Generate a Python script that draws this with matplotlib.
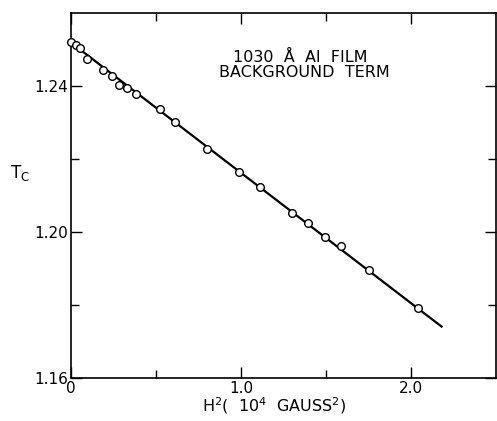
import numpy as np
from matplotlib import pyplot as plt

# measured points: H^2 (10^4 gauss^2) vs Tc
h2 = [0.0, 0.03, 0.053, 0.092, 0.19, 0.239, 0.282, 0.328, 0.384, 0.522, 0.612,
      0.798, 0.986, 1.112, 1.298, 1.396, 1.496, 1.588, 1.755, 2.039]
tc = [1.2521, 1.2512, 1.2505, 1.2475, 1.2444, 1.2427, 1.2404, 1.2396, 1.2378, 1.2336, 1.2302,
      1.2228, 1.2164, 1.2124, 1.2051, 1.2024, 1.1987, 1.1962, 1.1896, 1.1793]

# fitted straight line
fit_x = [0.0, 2.18]
fit_y = [1.2519, 1.1741]

fig = plt.figure(figsize=(4.97, 4.21), dpi=100)
ax = fig.add_axes([0.143, 0.102, 0.855, 0.867])

ax.plot(fit_x, fit_y, color="black", lw=1.6, zorder=2)
ax.plot(h2, tc, "o", ms=5.5, mfc="white", mec="black", mew=1.0, zorder=3, clip_on=False)

ax.set_xlim(0, 2.5)
ax.set_ylim(1.16, 1.26)
ax.set_xticks([0, 1.0, 2.0])
ax.set_xticklabels(["0", "1.0", "2.0"])
ax.set_xticks([0.5, 1.5], minor=True)
ax.set_yticks([1.16, 1.20, 1.24])
ax.set_yticklabels(["1.16", "1.20", "1.24"])
ax.set_yticks([1.18, 1.22], minor=True)
ax.tick_params(which="both", direction="in", top=True, right=True, width=1.0,
               labelsize=11, pad=2)
ax.tick_params(which="major", length=8)
ax.tick_params(which="minor", length=6)
for s in ax.spines.values():
    s.set_linewidth(1.2)

ax.text(0.54, 0.879, "1030  Å  Al  FILM", transform=ax.transAxes,
        ha="center", va="center", fontsize=11.5)
ax.text(0.549, 0.836, "BACKGROUND  TERM", transform=ax.transAxes,
        ha="center", va="center", fontsize=11.5)

fig.text(0.552, 0.012, "H$^2$(  10$^4$  GAUSS$^2$)", ha="center", va="bottom", fontsize=11.5)
fig.text(0.04, 0.59, "T$_\\mathrm{C}$", ha="center", va="center", fontsize=12)

fig.savefig("out.png", dpi=100)
